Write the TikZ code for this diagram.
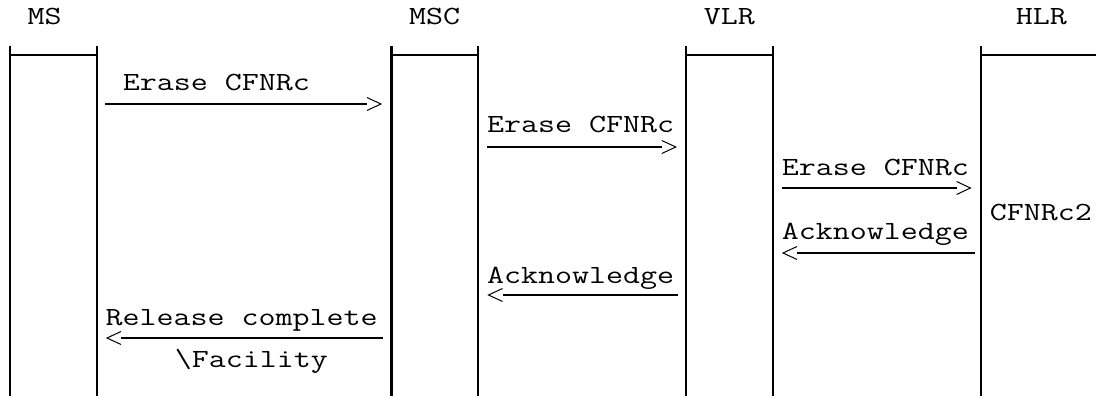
\documentclass[tikz,border=0pt]{standalone}
\usepackage{fontspec}
\newfontfamily\cour[FakeStretch=1.26]{Latin Modern Mono}
\begin{document}
\begin{tikzpicture}[x=1pt,y=-1pt,
  life/.style={line width=2.2pt},
  topl/.style={line width=1.2pt},
  msg/.style={line width=1.8pt},
  chev/.style={line width=1pt,line join=miter},
  txt/.style={inner sep=0pt,anchor=base west,font=\cour\fontsize{26.2}{28}\selectfont}]
\useasboundingbox (0,0) rectangle (1096,396);
% headers
\node[txt] (ms)  at (27.3,25)   {MS};
\node[txt] (msc) at (408.8,25)  {MSC};
\node[txt] (vlr) at (703.7,25)  {VLR};
\node[txt] (hlr) at (1015.7,25) {HLR};
% lifelines
\foreach \n/\x in {a/10.0,b/96.7,c/391.5,d/478.2,e/686.3,f/773.0,g/981.1}{
  \coordinate (\n t) at (\x,46);
  \coordinate (\n b) at (\x,396);
  \coordinate (\n h) at (\x,55);
}
\coordinate (hr) at (1096,55);
\foreach \n in {a,b,c,d,e,f,g}{\draw[life] (\n t) -- (\n b);}
\draw[topl] (ah) -- (bh);
\draw[topl] (ch) -- (dh);
\draw[topl] (eh) -- (fh);
\draw[topl] (gh) -- (hr);
% message 1: MS -> MSC
\node[txt] (t1) at (122.7,91) {Erase CFNRc};
\coordinate (m1s) at (105.4,104);
\coordinate (m1c) at (367.0,104);
\draw[msg] (m1s) -- (m1c);
\draw[chev] ([yshift=6.5pt]m1c) -- ++(14,6.5) -- ++(-14,6.5);
% message 2: MSC -> VLR
\node[txt] (t2) at (486.9,132) {Erase CFNRc};
\coordinate (m2s) at (486.9,147);
\coordinate (m2c) at (661.8,147);
\draw[msg] (m2s) -- (m2c);
\draw[chev] ([yshift=6.5pt]m2c) -- ++(14,6.5) -- ++(-14,6.5);
% message 3: VLR -> HLR
\node[txt] (t3) at (781.6,175) {Erase CFNRc};
\coordinate (m3s) at (781.6,188);
\coordinate (m3c) at (956.5,188);
\draw[msg] (m3s) -- (m3c);
\draw[chev] ([yshift=6.5pt]m3c) -- ++(14,6.5) -- ++(-14,6.5);
% HLR note
\node[txt] (note) at (989.7,220) {CFNRc2};
% message 4: HLR -> VLR
\node[txt] (t4) at (781.6,239) {Acknowledge};
\coordinate (m4s) at (975.0,253);
\coordinate (m4c) at (797.0,253);
\draw[msg] (m4s) -- (m4c);
\draw[chev] ([yshift=6.5pt]m4c) -- ++(-14,6.5) -- ++(14,6.5);
% message 5: VLR -> MSC
\node[txt] (t5) at (486.9,283) {Acknowledge};
\coordinate (m5s) at (677.6,295);
\coordinate (m5c) at (502.5,295);
\draw[msg] (m5s) -- (m5c);
\draw[chev] ([yshift=6.5pt]m5c) -- ++(-14,6.5) -- ++(14,6.5);
% message 6: MSC -> MS
\node[txt] (t6) at (105.4,325) {Release complete};
\node[txt] (t6b) at (174.7,367) {\symbol{92}Facility};
\coordinate (m6s) at (382.8,338);
\coordinate (m6c) at (121.0,338);
\draw[msg] (m6s) -- (m6c);
\draw[chev] ([yshift=6.5pt]m6c) -- ++(-14,6.5) -- ++(14,6.5);
\end{tikzpicture}
\end{document}
